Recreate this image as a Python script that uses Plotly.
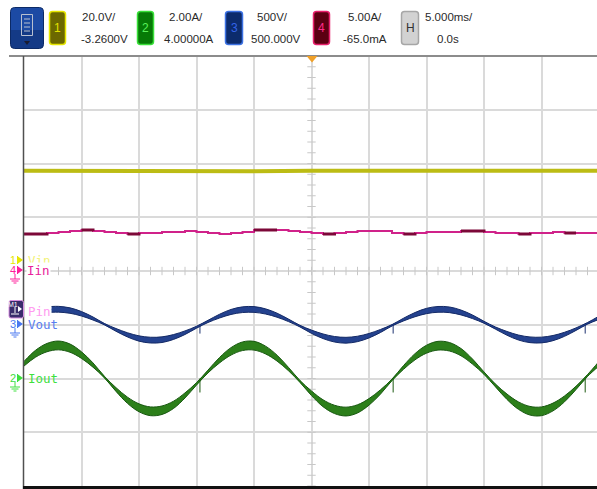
import plotly.graph_objects as go

# ---- acquisition settings (header) ----
CH_SCALE = {"1": 20.0, "2": 2.0, "3": 500.0, "4": 5.0}          # units / div
CH_OFFSET = {"1": -3.26, "2": 4.0, "3": 500.0, "4": -0.065}      # value at screen centre
HEADER_TOP = ["20.0V/", "2.00A/", "500V/", "5.00A/", "5.000ms/"]
HEADER_BOT = ["-3.2600V", "4.00000A", "500.000V", "-65.0mA", "0.0s"]
TIME_PER_DIV = 5.0  # ms

# ---- waveforms (time in ms) ----
T = list(range(-25, 26))

IOUT = [0.55, 0.92, 1.15, 1.23, 1.13, 0.87, 0.50, 0.05, -0.41, -0.81,
        -1.09, -1.22, -1.18, -0.98, -0.63, -0.20, 0.26, 0.68, 1.01, 1.20,
        1.22, 1.06, 0.76, 0.35, -0.11, -0.55, -0.92, -1.15, -1.23, -1.13,
        -0.87, -0.50, -0.05, 0.41, 0.81, 1.09, 1.22, 1.18, 0.98, 0.63,
        0.20, -0.26, -0.68, -1.01, -1.20, -1.22, -1.06, -0.76, -0.35, 0.11, 0.55]

T_VOUT = [-22.6] + list(range(-22, 26))
VOUT = [143, 144, 132, 102, 58, 5, -48, -94, -128, -143, -139, -114, -74, -23,
        31, 80, 119, 140, 142, 124, 89, 41, -13, -65, -107, -135, -144, -132,
        -102, -58, -5, 48, 94, 128, 143, 139, 114, 74, 23, -31, -80, -119,
        -140, -142, -124, -89, -41, 13, 65]

IIN = [3.38, 3.38, 3.47, 3.56, 3.66, 3.75, 3.66, 3.56, 3.47, 3.38,
       3.47, 3.47, 3.56, 3.56, 3.66, 3.56, 3.47, 3.38, 3.47, 3.56,
       3.75, 3.75, 3.75, 3.66, 3.56, 3.47, 3.38, 3.47, 3.56, 3.66,
       3.66, 3.66, 3.47, 3.38, 3.47, 3.56, 3.56, 3.56, 3.66, 3.66,
       3.56, 3.47, 3.47, 3.38, 3.47, 3.47, 3.56, 3.47, 3.47, 3.47, 3.47]
# sample index ranges where the Iin trace shows heavier (persistence) pixels
IIN_DENSE = [(0, 2), (5, 6), (9, 10), (20, 22), (26, 27), (33, 34), (38, 40), (43, 44), (47, 48)]

T_VIN = [-25, -20, -15, -10, -5, 0, 5, 10, 15, 20, 25]
VIN = [34.0, 33.9, 34.0, 34.0, 33.9, 34.0, 34.0, 33.9, 34.0, 34.0, 34.0]

GLITCH_T = [-9.7, 7.1, 23.8]
IOUT_GLITCH = -0.52
VOUT_GLITCH = -82

# ---- screen geometry ----
W, H = 597, 489
ML, MT, MB = 24, 56, 3
PW, PH = W - ML, H - MT - MB
PX_PER_DIV_Y = PH / 8.0


def to_div(vals, ch):
    return [(v - CH_OFFSET[ch]) / CH_SCALE[ch] for v in vals]


def X(x):
    return (x - ML) / PW


def Y(y):
    return (MT + PH - y) / PH


def rrect(x0, y0, x1, y1, r):
    return (f"M {X(x0 + r)},{Y(y0)} L {X(x1 - r)},{Y(y0)} Q {X(x1)},{Y(y0)} {X(x1)},{Y(y0 + r)} "
            f"L {X(x1)},{Y(y1 - r)} Q {X(x1)},{Y(y1)} {X(x1 - r)},{Y(y1)} "
            f"L {X(x0 + r)},{Y(y1)} Q {X(x0)},{Y(y1)} {X(x0)},{Y(y1 - r)} "
            f"L {X(x0)},{Y(y0 + r)} Q {X(x0)},{Y(y0)} {X(x0 + r)},{Y(y0)} Z")


fig = go.Figure()

# centre-line graticule ticks
tick_y = [k * 0.2 for k in range(-20, 21)]
fig.add_trace(go.Scatter(x=[0] * len(tick_y), y=tick_y, mode="markers",
                         marker=dict(symbol="line-ew", size=6, line=dict(width=1, color="#c8c8c8")),
                         hoverinfo="skip", showlegend=False))
tick_x = [k * 1.0 for k in range(-25, 25)]
fig.add_trace(go.Scatter(x=tick_x, y=[0] * len(tick_x), mode="markers",
                         marker=dict(symbol="line-ns", size=6, line=dict(width=1, color="#c8c8c8")),
                         hoverinfo="skip", showlegend=False))

# channel 4 (Iin)
iin_div = to_div(IIN, "4")
fig.add_trace(go.Scatter(x=T, y=iin_div, mode="lines", line_shape="hv",
                         line=dict(color="#d0228a", width=2), hoverinfo="skip", showlegend=False))
dx, dy = [], []
for i0, i1 in IIN_DENSE:
    dx += T[i0:i1 + 1] + [None]
    dy += iin_div[i0:i1 + 1] + [None]
fig.add_trace(go.Scatter(x=dx, y=dy, mode="lines", line_shape="hv",
                         line=dict(color="#7c0838", width=3), hoverinfo="skip", showlegend=False))

# channel 1 (Vin)
fig.add_trace(go.Scatter(x=T_VIN, y=to_div(VIN, "1"), mode="lines",
                         line=dict(color="#bcbc14", width=4), hoverinfo="skip", showlegend=False))


def band(t, vals, ch, amp, hw0, hw1, fill, edge, centre):
    c = to_div(vals, ch)
    hw = [(hw0 + hw1 * abs(v) / amp) / PX_PER_DIV_Y for v in vals]
    lo = [a - b for a, b in zip(c, hw)]
    hi = [a + b for a, b in zip(c, hw)]
    fig.add_trace(go.Scatter(x=t, y=c, mode="lines", line_shape="spline",
                             line=dict(color=centre, width=1.5), hoverinfo="skip", showlegend=False))
    fig.add_trace(go.Scatter(x=t, y=lo, mode="lines", line_shape="spline",
                             line=dict(color=edge, width=1), hoverinfo="skip", showlegend=False))
    fig.add_trace(go.Scatter(x=t, y=hi, mode="lines", line_shape="spline", fill="tonexty",
                             fillcolor=fill, line=dict(color=edge, width=1),
                             hoverinfo="skip", showlegend=False))


# channel 3 (Vout) and channel 2 (Iout)
band(T_VOUT, VOUT, "3", 144, 0.6, 2.3, "#24428f", "#142a66", "#5a80e0")
band(T, IOUT, "2", 1.23, 0.6, 3.8, "#2c7f1a", "#185810", "#45d045")


def glitches(low, ch, color):
    xs, ys = [], []
    for t in GLITCH_T:
        xs += [t, t, None]
        ys += [(0.0 - CH_OFFSET[ch]) / CH_SCALE[ch], (low - CH_OFFSET[ch]) / CH_SCALE[ch], None]
    fig.add_trace(go.Scatter(x=xs, y=ys, mode="lines", line=dict(color=color, width=1),
                             hoverinfo="skip", showlegend=False))


glitches(IOUT_GLITCH, "2", "#1d5a12")
glitches(VOUT_GLITCH, "3", "#1d3270")

shapes = []
ann = []

# frame
shapes.append(dict(type="line", xref="paper", yref="paper", x0=X(9), x1=X(597), y0=Y(56), y1=Y(56),
                   line=dict(color="#8c8c8c", width=2)))
shapes.append(dict(type="line", xref="paper", yref="paper", x0=X(23.5), x1=X(23.5), y0=Y(56), y1=Y(489),
                   line=dict(color="#505050", width=1.5)))
shapes.append(dict(type="rect", xref="paper", yref="paper", x0=X(23), x1=X(597), y0=Y(486), y1=Y(489),
                   fillcolor="#111111", line=dict(width=0)))
# trigger marker
shapes.append(dict(type="path", xref="paper", yref="paper",
                   path=f"M {X(306.5)},{Y(56)} L {X(317.5)},{Y(56)} L {X(312)},{Y(62.5)} Z",
                   fillcolor="#f0a028", line=dict(width=0)))

# menu button
shapes.append(dict(type="path", xref="paper", yref="paper", path=rrect(10.5, 7.5, 43.5, 48.5, 4),
                   fillcolor="#143a86", line=dict(color="#0c2a66", width=1)))
shapes.append(dict(type="path", xref="paper", yref="paper",
                   path=f"M {X(11)},{Y(30)} L {X(43)},{Y(30)} L {X(43)},{Y(12)} Q {X(43)},{Y(8)} {X(39)},{Y(8)} "
                        f"L {X(15)},{Y(8)} Q {X(11)},{Y(8)} {X(11)},{Y(12)} Z",
                   fillcolor="#1c4aa4", line=dict(width=0)))
shapes.append(dict(type="rect", xref="paper", yref="paper", x0=X(21.5), x1=X(32.5), y0=Y(14.5), y1=Y(35.5),
                   line=dict(color="#b8c0d0", width=1), fillcolor="rgba(0,0,0,0)"))
for yy in (19, 23, 27, 31):
    shapes.append(dict(type="line", xref="paper", yref="paper", x0=X(24), x1=X(30), y0=Y(yy), y1=Y(yy),
                       line=dict(color="#b8c0d0", width=1)))
shapes.append(dict(type="path", xref="paper", yref="paper",
                   path=f"M {X(24)},{Y(41)} L {X(30)},{Y(41)} L {X(27)},{Y(45)} Z",
                   fillcolor="#1a1c30", line=dict(width=0)))

# channel boxes
boxes = [
    ("1", 49, 66, "#6c6800", "#e6e600", "#e0e000"),
    ("2", 137, 154, "#067a06", "#38e038", "#5af05a"),
    ("3", 225, 243, "#0c2b6c", "#3c72e4", "#3464e8"),
    ("4", 313, 330, "#5c0012", "#e8206c", "#ff2a8a"),
    ("H", 401, 419, "#d2d2d2", "#a6a6a6", "#333333"),
]
for lab, x0, x1, fc, bc, tc in boxes:
    shapes.append(dict(type="path", xref="paper", yref="paper", path=rrect(x0 + .5, 11.5, x1 - .5, 44.5, 3),
                       fillcolor=fc, line=dict(color=bc, width=1.5)))
    ann.append(dict(x=X((x0 + x1) / 2), y=Y(27.5), text=lab, font=dict(family="Liberation Sans", size=12, color=tc)))

top_x = [99, 186, 272, 365, 449]
bot_x = [104, 189, 276, 365, 448]
for s, xx in zip(HEADER_TOP, top_x):
    ann.append(dict(x=X(xx), y=Y(17), text=s, font=dict(family="Liberation Sans", size=11.5, color="#2a2a2a")))
for s, xx in zip(HEADER_BOT, bot_x):
    ann.append(dict(x=X(xx), y=Y(39), text=s, font=dict(family="Liberation Sans", size=11.5, color="#2a2a2a")))


def marker(y, lab, color, ground=True):
    ann.append(dict(x=X(13), y=Y(y), text=lab, font=dict(family="Liberation Sans", size=11, color=color)))
    shapes.append(dict(type="line", xref="paper", yref="paper", x0=X(17.5), x1=X(17.5), y0=Y(y - 4), y1=Y(y + 4),
                       line=dict(color=color, width=1)))
    shapes.append(dict(type="path", xref="paper", yref="paper",
                       path=f"M {X(18)},{Y(y - 3.5)} L {X(23)},{Y(y)} L {X(18)},{Y(y + 3.5)} Z",
                       fillcolor=color, line=dict(width=0)))
    if ground:
        gx = 15
        shapes.append(dict(type="line", xref="paper", yref="paper", x0=X(gx), x1=X(gx), y0=Y(y + 4), y1=Y(y + 9),
                           line=dict(color=color, width=1)))
        for dy_, hw in ((9, 5), (11, 3.5), (13, 1.5)):
            shapes.append(dict(type="line", xref="paper", yref="paper", x0=X(gx - hw), x1=X(gx + hw),
                               y0=Y(y + dy_), y1=Y(y + dy_), line=dict(color=color, width=1)))


MONO = "DejaVu Sans Mono"
marker(260, "1", "#e6e600", ground=False)
ann.append(dict(x=X(27), y=Y(260), text="Vin", xanchor="left", font=dict(family=MONO, size=12.5, color="#f2f27a")))
marker(270, "4", "#ff1e9a")
ann.append(dict(x=X(26), y=Y(270.5), text="Iin", xanchor="left", bgcolor="#ffffff", borderpad=0,
                font=dict(family=MONO, size=12.5, color="#e8209a")))

# channel 3 ground sits under the math marker
marker(324, "3", "#4a78f0")
shapes.append(dict(type="path", xref="paper", yref="paper", path=rrect(9, 300.5, 23.5, 318, 2),
                   fillcolor="#3a2c6c", line=dict(color="#d890e0", width=1)))
ann.append(dict(x=X(13), y=Y(304), text="M1", font=dict(family="Liberation Sans", size=7, color="#ffffff")))
shapes.append(dict(type="path", xref="paper", yref="paper",
                   path=f"M {X(18)},{Y(306)} L {X(22)},{Y(309)} L {X(18)},{Y(312)} Z",
                   fillcolor="#ffffff", line=dict(width=0)))
shapes.append(dict(type="line", xref="paper", yref="paper", x0=X(15), x1=X(15), y0=Y(307), y1=Y(313),
                   line=dict(color="#ffffff", width=1)))
shapes.append(dict(type="line", xref="paper", yref="paper", x0=X(11), x1=X(19), y0=Y(314), y1=Y(314),
                   line=dict(color="#ffffff", width=1)))
ann.append(dict(x=X(27), y=Y(311), text="Pin", xanchor="left", borderpad=0,
                font=dict(family=MONO, size=12.5, color="#ff9cf0")))
ann.append(dict(x=X(27), y=Y(324.5), text="Vout", xanchor="left", borderpad=0,
                font=dict(family=MONO, size=12.5, color="#5a7ef0")))

marker(378, "2", "#3ee03e")
ann.append(dict(x=X(27), y=Y(378), text="Iout", xanchor="left", borderpad=0,
                font=dict(family=MONO, size=12.5, color="#3ee03e")))

for a in ann:
    a.setdefault("xref", "paper")
    a.setdefault("yref", "paper")
    a.setdefault("showarrow", False)
    a.setdefault("xanchor", "center")
    a.setdefault("yanchor", "middle")
    a.setdefault("borderpad", 0)

px_per_ms = 575 / 50.0
fig.update_layout(
    width=W, height=H, autosize=False,
    margin=dict(l=ML, r=0, t=MT, b=MB, pad=0),
    paper_bgcolor="#ffffff", plot_bgcolor="#ffffff",
    shapes=shapes, annotations=ann, showlegend=False,
    xaxis=dict(range=[-25, -25 + PW / px_per_ms], tick0=-25, dtick=TIME_PER_DIV, showgrid=True,
               gridcolor="#dadada", gridwidth=2, zeroline=False, showticklabels=False, ticks="",
               showline=False, fixedrange=True),
    yaxis=dict(range=[-4, 4], tick0=0, dtick=1, showgrid=True, gridcolor="#dadada", gridwidth=2,
               zeroline=False, showticklabels=False, ticks="", showline=False, fixedrange=True),
)

fig.write_html("out.html", config={"displayModeBar": False, "staticPlot": True})
